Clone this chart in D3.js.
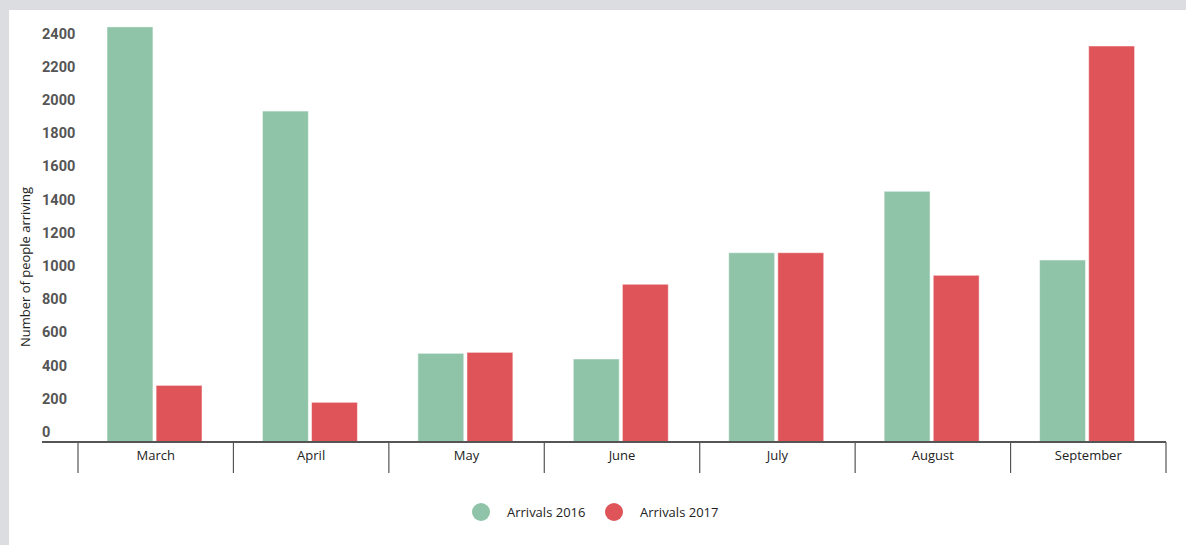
<!DOCTYPE html>
<html>
<head>
<meta charset="utf-8">
<script src="https://cdn.jsdelivr.net/npm/d3@7"></script>
<style>
  html, body { margin: 0; padding: 0; background: #dcdde0; }
  svg { display: block; }
</style>
</head>
<body>
<div id="chart"></div>
<script>
// Data
const months = ["March", "April", "May", "June", "July", "August", "September"];
const seriesNames = ["Arrivals 2016", "Arrivals 2017"];
const arrivals2016 = [2500, 1993, 534, 500, 1140, 1510, 1096];
const arrivals2017 = [341, 239, 540, 950, 1140, 1004, 2385];
const yTicks = [0, 200, 400, 600, 800, 1000, 1200, 1400, 1600, 1800, 2000, 2200, 2400];
const colors = ["#8fc4a8", "#de5459"];

const rows = months.map((m, i) => ({ month: m, values: [arrivals2016[i], arrivals2017[i]] }));

const width = 1186, height = 545;
const margin = { top: 43.5, bottom: 442, left: 78, right: 1166 };

const svg = d3.select("#chart").append("svg")
    .attr("width", width)
    .attr("height", height);

// white panel over the grey frame
svg.append("rect")
    .attr("x", 9).attr("y", 10)
    .attr("width", width - 9).attr("height", height - 10)
    .attr("fill", "#fff");

const yScale = d3.scaleLinear()
    .domain([0, 2400])
    .range([margin.bottom, margin.top]);

const xScale = d3.scaleBand()
    .domain(months)
    .range([margin.left, margin.right]);

const bw = xScale.bandwidth();
const groupW = 95;
const xInner = d3.scaleBand()
    .domain(seriesNames)
    .range([(bw - groupW) / 2 - 1.2, (bw + groupW) / 2 - 1.2])
    .paddingInner(0.065);

// y tick labels, sitting above their value
svg.append("g")
    .selectAll("text")
    .data(yTicks)
    .enter().append("text")
    .attr("x", 42)
    .attr("y", d => yScale(d) - 5)
    .attr("fill", "#555")
    .style("font-family", "Roboto, sans-serif")
    .style("font-weight", "bold")
    .style("font-size", "14.5px")
    .text(d => d);

// y axis title
svg.append("text")
    .attr("transform", "translate(30, 267) rotate(-90)")
    .attr("text-anchor", "middle")
    .attr("fill", "#222")
    .style("font-family", "'Open Sans', sans-serif")
    .style("font-size", "13px")
    .text("Number of people arriving");

// bars
const groups = svg.append("g")
    .selectAll("g")
    .data(rows)
    .enter().append("g")
    .attr("transform", d => `translate(${xScale(d.month)},0)`);

groups.selectAll("rect")
    .data(d => d.values.map((v, i) => ({ key: seriesNames[i], value: v, i: i })))
    .enter().append("rect")
    .attr("x", d => xInner(d.key))
    .attr("y", d => yScale(d.value))
    .attr("width", xInner.bandwidth())
    .attr("height", d => yScale(0) - yScale(d.value))
    .attr("fill", d => colors[d.i])
    .attr("stroke", "rgba(255,255,255,0.5)")
    .attr("stroke-width", 1);

// x axis: baseline + category dividers
const axis = svg.append("g");
axis.append("line")
    .attr("x1", 42).attr("x2", margin.right)
    .attr("y1", yScale(0)).attr("y2", yScale(0))
    .attr("stroke", "#555")
    .attr("stroke-width", 2);

const edges = months.map(m => xScale(m)).concat([margin.right]);
axis.selectAll(".divider")
    .data(edges)
    .enter().append("line")
    .attr("class", "divider")
    .attr("x1", d => d).attr("x2", d => d)
    .attr("y1", yScale(0)).attr("y2", 473)
    .attr("stroke", "#555")
    .attr("stroke-width", 1.2);

axis.selectAll(".month")
    .data(months)
    .enter().append("text")
    .attr("class", "month")
    .attr("x", d => xScale(d) + bw / 2)
    .attr("y", 460)
    .attr("text-anchor", "middle")
    .attr("fill", "#222")
    .style("font-family", "'Open Sans', sans-serif")
    .style("font-size", "13px")
    .text(d => d);

// legend
const legendX = [481, 614];
const legend = svg.append("g")
    .selectAll("g")
    .data(seriesNames)
    .enter().append("g")
    .attr("transform", (d, i) => `translate(${legendX[i]}, 512)`);

legend.append("circle")
    .attr("r", 9)
    .attr("fill", (d, i) => colors[i]);

legend.append("text")
    .attr("x", 26)
    .attr("y", 4.5)
    .attr("fill", "#222")
    .style("font-family", "'Open Sans', sans-serif")
    .style("font-size", "13px")
    .text(d => d);
</script>
</body>
</html>
